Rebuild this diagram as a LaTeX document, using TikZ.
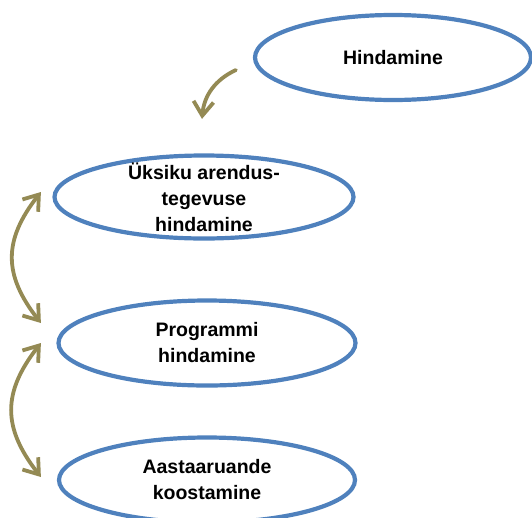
\documentclass[tikz,border=0pt]{standalone}
\usepackage{fontspec}
\setmainfont{Liberation Sans}
\usetikzlibrary{arrows.meta,shapes.geometric}
\definecolor{ringc}{RGB}{79,129,189}
\definecolor{olivec}{RGB}{148,138,84}

\begin{document}
\begin{tikzpicture}[x=1pt, y=1pt, >={Straight Barb[length=14pt,width=20pt]},
  font=\bfseries\fontsize{19.5}{26}\selectfont, line cap=round,
  stage/.style={ellipse, draw=ringc, line width=4.2pt, inner sep=0pt},
  lbl/.style={align=center, text=black},
  link/.style={draw=olivec, line width=3.8pt}]

  % page frame (the lowest ellipse runs off the bottom edge)
  \useasboundingbox (0,0) rectangle (532,-517);

  % the four stages
  \node[stage, minimum width=276, minimum height=85] (hind) at (393,-57.5) {};
  \node[stage, minimum width=299, minimum height=83] (uks)  at (204,-197)  {};
  \node[stage, minimum width=297, minimum height=85] (prog) at (207,-343)  {};
  \node[stage, minimum width=296, minimum height=85] (aast) at (207,-480)  {};

  \node[lbl] (hind-t) at (hind) {Hindamine};
  \node[lbl] (uks-t)  at (uks)  {Üksiku arendus-\\tegevuse\\hindamine};
  \node[lbl] (prog-t) at (prog) {Programmi\\hindamine};
  \node[lbl] (aast-t) at (aast) {Aastaaruande\\koostamine};

  % free ends of the arrows, just off the ellipses
  \coordinate (h-out) at ([shift={(-17,-12.5)}]hind.west);
  \coordinate (u-in)  at ([shift={(-2,34.5)}]uks.north);
  \coordinate (u-w)   at ([shift={(-11.5,5)}]uks.west);
  \coordinate (p-w1)  at ([shift={(-15.5,20)}]prog.west);
  \coordinate (p-w2)  at ([shift={(-15.5,0)}]prog.west);
  \coordinate (a-w)   at ([shift={(-16,3)}]aast.west);

  % evaluation feeds down into the single activity
  \draw[link, ->] (h-out) to[out=205, in=85] (u-in);

  % two-way links along the left margin
  \draw[link, <->] (u-w)  to[out=232, in=128, looseness=1.2] (p-w1);
  \draw[link, <->] (p-w2) to[out=232, in=128, looseness=1.2] (a-w);

\end{tikzpicture}
\end{document}
